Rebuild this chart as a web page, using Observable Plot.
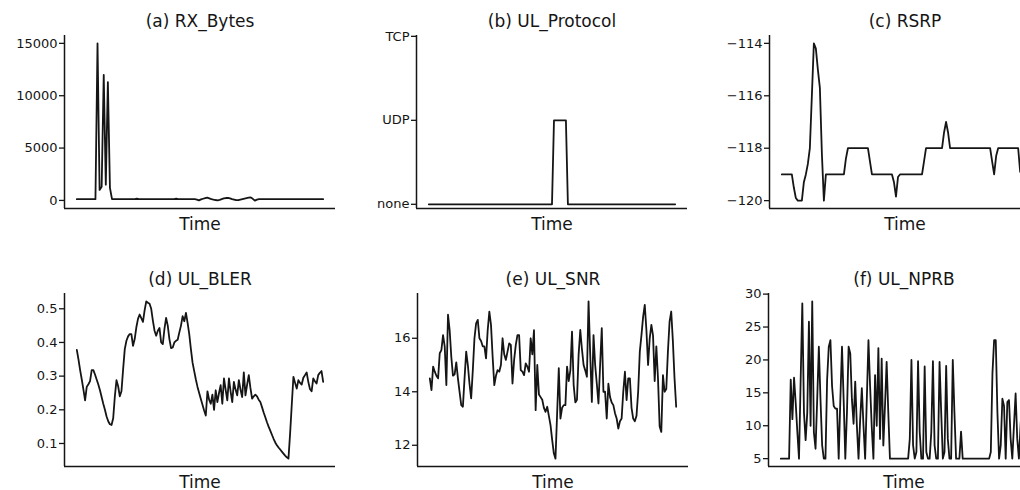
<!DOCTYPE html>
<html>
<head>
<meta charset="utf-8">
<script src="https://cdn.jsdelivr.net/npm/d3@7"></script>
<script src="https://cdn.jsdelivr.net/npm/@observablehq/plot@0.6"></script>
<style>
  html, body { margin: 0; padding: 0; background: #fff; }
  #chart { position: relative; width: 1020px; height: 490px; overflow: hidden; background: #fff; }
  #chart svg { position: absolute; }
</style>
</head>
<body>
<div id="chart"></div>
<script>
// ---------- data ----------
const titles = ["(a) RX_Bytes", "(b) UL_Protocol", "(c) RSRP", "(d) UL_BLER", "(e) UL_SNR", "(f) UL_NPRB"];
const xLabel = "Time";

const rxBytes = [
  120,120,120,120,120,120,120,120,120,120,
  15000,1000,1300,12000,1500,11300,1200,120,120,120,
  120,120,120,120,120,120,120,120,120,160,
  120,120,120,120,120,120,120,120,120,120,
  120,120,120,120,120,120,120,120,160,120,
  120,120,120,120,120,120,120,120,80,0,
  100,160,220,270,200,130,80,40,10,60,
  130,190,230,250,190,120,70,20,20,80,
  130,180,230,270,290,150,-20,80,120,120,
  120,120,120,120,120,120,120,120,120,120,
  120,120,120,120,120,120,120,120,120,120,
  120,120,120,120,120,120,120,120,120,120
];
const rxTicks = [0, 5000, 10000, 15000];

const protoCats = ["none", "UDP", "TCP"];
const ulProtocol = [
  0,0,0,0,0,0,0,0,0,0, 0,0,0,0,0,0,0,0,0,0,
  0,0,0,0,0,0,0,0,0,0, 0,0,0,0,0,0,0,0,0,0,
  0,0,0,0,0,0,0,0,0,0, 0,0,0,0,0,0,0,0,0,0,
  0,0,0,1,1,1,1,1,1,1, 0,0,0,0,0,0,0,0,0,0,
  0,0,0,0,0,0,0,0,0,0, 0,0,0,0,0,0,0,0,0,0,
  0,0,0,0,0,0,0,0,0,0, 0,0,0,0,0,0,0,0,0,0,
  0,0,0,0,0
];
const protoTicks = [0, 1, 2];

const rsrp = [
  -119,-119,-119,-119,-119,-119,-119.5,-119.9,-120,-120,
  -120,-119.3,-119,-118.6,-118,-116,-114,-114.2,-115,-115.7,
  -118.2,-120,-119,-119,-119,-119,-119,-119,-119,-119,
  -119,-119,-118.4,-118,-118,-118,-118,-118,-118,-118,
  -118,-118,-118,-118,-118.5,-119,-119,-119,-119,-119,
  -119,-119,-119,-119,-119,-119,-119.3,-119.85,-119.1,-119,
  -119,-119,-119,-119,-119,-119,-119,-119,-119,-119,
  -119,-118.5,-118,-118,-118,-118,-118,-118,-118,-118,
  -118,-117.4,-117,-117.4,-118,-118,-118,-118,-118,-118,
  -118,-118,-118,-118,-118,-118,-118,-118,-118,-118,
  -118,-118,-118,-118,-118,-118.5,-119,-118.3,-118,-118,
  -118,-118,-118,-118,-118,-118,-118,-118,-118,-118.9,
  -119,-118.5,-118,-118
];
const rsrpTicks = [-120, -118, -116, -114];

const ulBler = [
  0.378,0.350,0.318,0.290,0.260,0.228,0.268,0.276,0.285,0.318,
  0.318,0.305,0.290,0.275,0.258,0.238,0.218,0.200,0.180,0.166,
  0.157,0.155,0.175,0.240,0.288,0.270,0.240,0.255,0.320,0.380,
  0.405,0.418,0.425,0.425,0.390,0.410,0.445,0.470,0.483,0.472,
  0.461,0.495,0.522,0.518,0.515,0.500,0.465,0.435,0.420,0.435,
  0.443,0.400,0.395,0.440,0.473,0.450,0.410,0.383,0.385,0.400,
  0.405,0.408,0.430,0.450,0.478,0.463,0.488,0.458,0.425,0.380,
  0.340,0.315,0.290,0.268,0.250,0.232,0.215,0.198,0.183,0.255,
  0.230,0.218,0.245,0.200,0.258,0.223,0.250,0.273,0.218,0.293,
  0.260,0.228,0.293,0.255,0.223,0.283,0.260,0.243,0.288,0.260,
  0.238,0.311,0.243,0.275,0.303,0.265,0.233,0.240,0.245,0.240,
  0.230,0.223,0.208,0.192,0.178,0.163,0.150,0.138,0.126,0.114,
  0.103,0.095,0.088,0.082,0.076,0.070,0.064,0.059,0.055,0.130,
  0.215,0.298,0.280,0.263,0.288,0.280,0.275,0.295,0.303,0.311,
  0.283,0.262,0.255,0.293,0.285,0.278,0.303,0.310,0.315,0.283
];
const blerTicks = [0.1, 0.2, 0.3, 0.4, 0.5];

const ulSnr = [
  14.5,14.06,14.94,14.75,14.6,14.5,15.44,15.56,16.12,15.7,
  14.25,16.88,16.3,15.3,14.6,14.65,15.1,14.5,14.0,13.5,
  13.44,14.5,15.5,15.0,14.3,13.75,14.8,16.0,16.56,16.69,
  16.0,15.9,15.7,15.7,15.25,16.3,17.0,16.5,15.3,14.25,
  14.6,14.81,14.75,15.0,16.0,15.4,15.19,15.5,15.81,15.75,
  14.31,15.2,15.75,16.12,16.12,14.81,14.75,14.62,15.06,14.94,
  14.75,16.0,15.4,16.3,13.31,15.0,13.9,13.8,13.7,13.4,
  13.25,13.44,13.1,12.75,12.2,11.7,11.5,13.2,14.88,13.0,
  13.4,13.5,13.5,14.94,14.4,14.8,16.25,14.25,13.6,13.7,
  15.4,16.31,15.6,15.0,14.8,14.56,17.38,15.4,13.62,16.12,
  15.0,14.3,13.56,15.0,16.38,14.0,14.0,13.0,14.3,13.8,
  13.6,13.5,13.2,13.0,12.62,12.9,13.0,14.0,14.75,13.69,
  14.5,14.5,13.4,13.0,12.9,13.1,14.0,15.5,16.12,16.8,
  17.25,16.3,15.0,16.0,16.5,16.1,14.4,15.7,14.5,12.7,
  12.5,14.62,14.0,14.1,15.5,16.62,17.0,15.9,14.5,13.44
];
const snrTicks = [12, 14, 16];

const ulNprb = [
  5,5,5,5,5,5,17,11,17.3,13.5,
  9,5,17,28.6,12,7.8,12,25.8,10,28.9,
  9,6.5,14,22,14,7,5,5,17,22,
  23,16,13,12.6,12.6,5,14,22,14,5,
  12,22,21,14,10.3,16.7,10,5,11,15.7,
  10,5,14,23,16,9.8,5,17.7,10,21.8,
  8,20.2,7,13,19.7,12,5,5,5,5,
  5,5,5,5,5,5,5,5,8,20,
  7,5,6,19.8,9,5,5,19,6,5,
  5,9,19.8,7,5,5,19.7,12,5,6,
  19.1,8,5,5,20,12,5,5,5,9.1,
  5,5,5,5,5,5,5,5,5,5,
  5,5,5,5,5,5,5,6,18,23,
  23,12,5,7,14.1,13,5,13.6,13.9,8,
  5,10,14.9,8,5,10,14,8,5,12
];
const nprbTicks = [5, 10, 15, 20, 25, 30];

// ---------- layout ----------
const ML = 64, MR = 12, MT = 35, MB = 32, PW = 271, PH = 173;
const ink = "#151515";

function panel(values, title, ticks, fmt, yDomain) {
  const n = values.length;
  const xd = [-0.05 * (n - 1), 1.05 * (n - 1)];
  const ext = d3.extent(values);
  const span = ext[1] - ext[0];
  const yd = yDomain || [ext[0] - 0.05 * span, ext[1] + 0.05 * span];
  return Plot.plot({
    width: ML + PW + MR,
    height: MT + PH + MB,
    marginLeft: ML, marginRight: MR, marginTop: MT, marginBottom: MB,
    style: {fontFamily: "DejaVu Sans", fontSize: "13px", color: ink, background: "transparent", overflow: "visible"},
    x: {domain: xd, axis: null},
    y: {domain: yd},
    marks: [
      Plot.axisY({ticks, tickFormat: fmt, tickSize: 5, tickPadding: 2, label: null, fontSize: 13, strokeWidth: 1.3}),
      Plot.ruleX([xd[0]], {stroke: ink, strokeWidth: 1.5}),
      Plot.ruleY([yd[0]], {stroke: ink, strokeWidth: 1.5}),
      Plot.lineY(values, {x: (d, i) => i, y: d => d, stroke: ink, strokeWidth: 1.8}),
      Plot.text([title], {frameAnchor: "top", lineAnchor: "bottom", dy: -9, fontSize: 17, fill: ink}),
      Plot.text([xLabel], {frameAnchor: "bottom", lineAnchor: "bottom", dy: 21, fontSize: 17, fill: ink})
    ]
  });
}

const fmtInt = d3.format("d");
const fmt1 = d3.format(".1f");
const specs = [
  {v: rxBytes, t: titles[0], ticks: rxTicks, fmt: fmtInt, ax: 64, top: 35},
  {v: ulProtocol, t: titles[1], ticks: protoTicks, fmt: i => protoCats[i], ax: 416, top: 35, dom: [-0.05, 2.01]},
  {v: rsrp, t: titles[2], ticks: rsrpTicks, fmt: fmtInt, ax: 769, top: 35},
  {v: ulBler, t: titles[3], ticks: blerTicks, fmt: fmt1, ax: 64, top: 293},
  {v: ulSnr, t: titles[4], ticks: snrTicks, fmt: fmtInt, ax: 417, top: 293},
  {v: ulNprb, t: titles[5], ticks: nprbTicks, fmt: fmtInt, ax: 768, top: 293}
];

const root = document.getElementById("chart");
for (const s of specs) {
  const svg = panel(s.v, s.t, s.ticks, s.fmt, s.dom);
  svg.style.left = (s.ax - ML) + "px";
  svg.style.top = (s.top - MT) + "px";
  root.appendChild(svg);
}
</script>
</body>
</html>
